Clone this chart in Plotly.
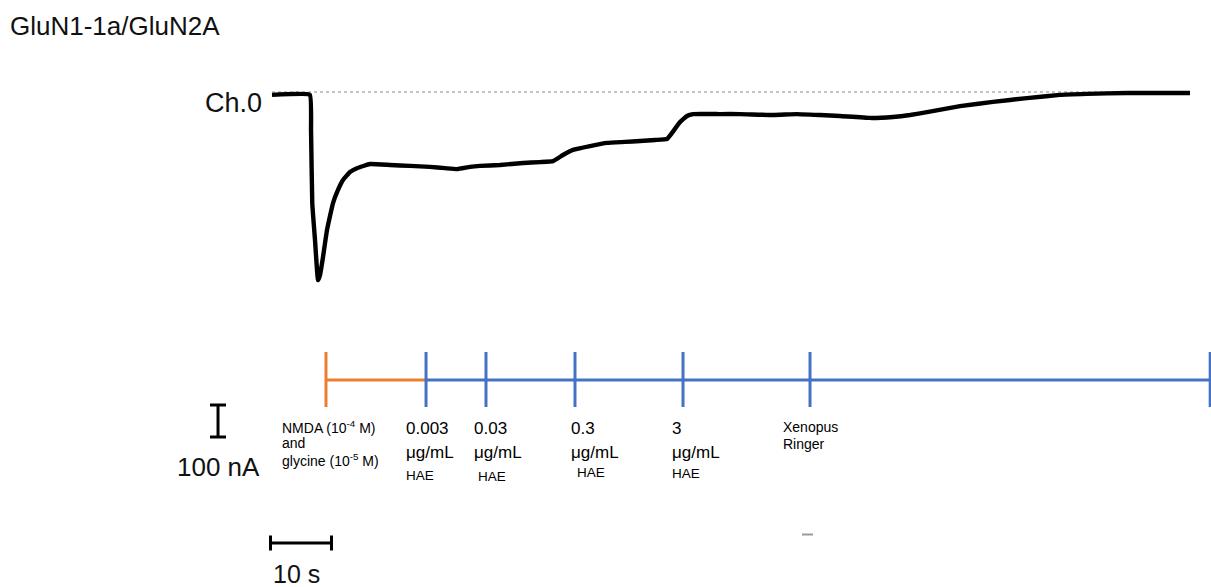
import plotly.graph_objects as go

# ---------------- data ----------------
# recorded current trace (time in s, current in nA)
time_s = [0, 6.2, 6.4, 6.6, 7.05, 7.54, 7.87, 8.36, 9.02, 10.0,
          10.82, 11.64, 12.79, 13.93, 16.07, 19.34, 22.62, 25.9, 28.36, 30.33,
          32.46, 34.1, 37.38, 41.15, 43.93, 46.07, 47.7, 49.34, 52.13, 54.92,
          57.87, 60.33, 62.79, 64.75, 65.57, 66.89, 68.03, 69.02, 73.44, 76.72,
          82.13, 86.07, 89.84, 93.11, 98.03, 101.8, 104.59, 107.38, 112.79, 118.2,
          123.77, 129.18, 133.61, 140.16, 145.57, 150.49]
current_nA = [-9, -9, -119, -347, -463, -588, -572, -516, -431, -347,
              -306, -275, -250, -238, -225, -228, -231, -234, -238, -241,
              -234, -231, -228, -222, -219, -216, -197, -181, -169, -159,
              -156, -153, -150, -147, -128, -94, -75, -69, -69, -69,
              -72, -69, -72, -75, -81, -78, -72, -63, -44, -31,
              -19, -9, -6, -3, -3, -3]

# solution-exchange protocol (onset times, s)
nmda_on = 8.85
hae_on = [25.25, 35.08, 49.67, 67.38]
hae_conc = ["0.003", "0.03", "0.3", "3"]
hae_unit = "μg/mL"
hae_name = "HAE"
wash_on = 88.2
protocol_end = 153.8
nmda_lines = ["NMDA (10<sup>-4</sup> M)", "and", "glycine (10<sup>-5</sup> M)"]
wash_lines = ["Xenopus", "Ringer"]

title_text = "GluN1-1a/GluN2A"
channel_label = "Ch.0"
scale_t = 10      # s
scale_i = 100     # nA
scale_t_label = "10 s"
scale_i_label = "100 nA"

# ---------------- layout helpers ----------------
W, H = 1211, 587
PX_PER_S = 6.1
NA_PER_PX = 3.125
X0_PX = 272       # pixel of t = 0
Y0_PX = 92        # pixel of I = 0
FONT = "Liberation Sans, Arial, sans-serif"
ORANGE = "#ED7D31"
BLUE = "#4472C4"


def py(p):
    return 1 - p / H


def px(p):
    return p / W


fig = go.Figure()

# zero (Ch.0) reference line
fig.add_trace(go.Scatter(x=[time_s[0], time_s[-1]], y=[0, 0], mode="lines",
                         line=dict(color="#8a8a8a", width=1, dash="dot"),
                         hoverinfo="skip", showlegend=False))
# current trace
fig.add_trace(go.Scatter(x=time_s, y=current_nA, mode="lines",
                         line=dict(color="black", width=4.4, shape="spline", smoothing=0.3),
                         showlegend=False))

shapes = []
# protocol bar
bar_y = py(380)
tick_top, tick_bot = py(352), py(407)
shapes.append(dict(type="line", xref="x", yref="paper", x0=nmda_on, x1=hae_on[0],
                   y0=bar_y, y1=bar_y, line=dict(color=ORANGE, width=3)))
shapes.append(dict(type="line", xref="x", yref="paper", x0=nmda_on, x1=nmda_on,
                   y0=tick_bot, y1=tick_top, line=dict(color=ORANGE, width=3)))
shapes.append(dict(type="line", xref="x", yref="paper", x0=hae_on[0], x1=protocol_end + 5,
                   y0=bar_y, y1=bar_y, line=dict(color=BLUE, width=3)))
for t in hae_on + [wash_on, protocol_end]:
    shapes.append(dict(type="line", xref="x", yref="paper", x0=t, x1=t,
                       y0=tick_bot, y1=tick_top, line=dict(color=BLUE, width=3)))

# vertical scale bar (100 nA)
sb_x = -8.85
sb_top = -(405 - Y0_PX) * NA_PER_PX
cap_half = 8 / PX_PER_S
shapes.append(dict(type="line", xref="x", yref="y", x0=sb_x, x1=sb_x,
                   y0=sb_top, y1=sb_top - scale_i, line=dict(color="black", width=3)))
for yy in (sb_top, sb_top - scale_i):
    shapes.append(dict(type="line", xref="x", yref="y", x0=sb_x - cap_half, x1=sb_x + cap_half,
                       y0=yy, y1=yy, line=dict(color="black", width=3)))

# horizontal scale bar (10 s)
hb_x0 = -0.25
hb_y = -(543 - Y0_PX) * NA_PER_PX
tick_h = 7.5 * NA_PER_PX
shapes.append(dict(type="line", xref="x", yref="y", x0=hb_x0, x1=hb_x0 + scale_t,
                   y0=hb_y, y1=hb_y, line=dict(color="black", width=3)))
for xx in (hb_x0, hb_x0 + scale_t):
    shapes.append(dict(type="line", xref="x", yref="y", x0=xx, x1=xx,
                       y0=hb_y - tick_h, y1=hb_y + tick_h, line=dict(color="black", width=3)))

# small grey artefact
shapes.append(dict(type="line", xref="paper", yref="paper", x0=px(802), x1=px(813),
                   y0=py(534.5), y1=py(534.5), line=dict(color="#9a9a9a", width=2)))

ann = []


def label(text, xref, x, ypx, size, xanchor="left", xshift=0, color="black"):
    ann.append(dict(text=text, xref=xref, x=x, yref="paper", y=py(ypx),
                    xanchor=xanchor, yanchor="middle", xshift=xshift, showarrow=False,
                    borderpad=0,
                    font=dict(family=FONT, size=size, color=color)))


label(title_text, "paper", px(9), 26, 26, color="#111")
label(channel_label, "x", time_s[0], 103, 27, xanchor="right", xshift=-9, color="#111")
label(scale_i_label, "x", sb_x, 467, 26, xanchor="center", xshift=0, color="#111")
label(scale_t_label, "x", hb_x0 + scale_t / 2, 574, 25, xanchor="center", xshift=-4, color="#111")

# NMDA / glycine label
for line, ypx in zip(nmda_lines, [427, 443, 460]):
    label(line, "x", nmda_on, ypx, 14, xshift=-45)

# HAE labels
conc_dx = [-21, -13, -5, -12]
name_dx = [-21, -9, 1, -12]
name_y = [475, 476, 472, 473]
for t, c, dx, ndx, ny in zip(hae_on, hae_conc, conc_dx, name_dx, name_y):
    label(c, "x", t, 428, 17, xshift=dx)
    label(hae_unit, "x", t, 452, 17, xshift=dx)
    label(hae_name, "x", t, ny, 13.5, xshift=ndx)

# wash label
for line, ypx in zip(wash_lines, [427, 444]):
    label(line, "x", wash_on, ypx, 14, xshift=-28)

fig.update_layout(
    width=W, height=H,
    margin=dict(l=0, r=0, t=0, b=0),
    paper_bgcolor="white", plot_bgcolor="white",
    xaxis=dict(range=[-X0_PX / PX_PER_S, (W - X0_PX) / PX_PER_S], visible=False, fixedrange=True),
    yaxis=dict(range=[-(H - Y0_PX) * NA_PER_PX, Y0_PX * NA_PER_PX], visible=False, fixedrange=True),
    shapes=shapes, annotations=ann, showlegend=False,
)

fig.write_html("out.html")
